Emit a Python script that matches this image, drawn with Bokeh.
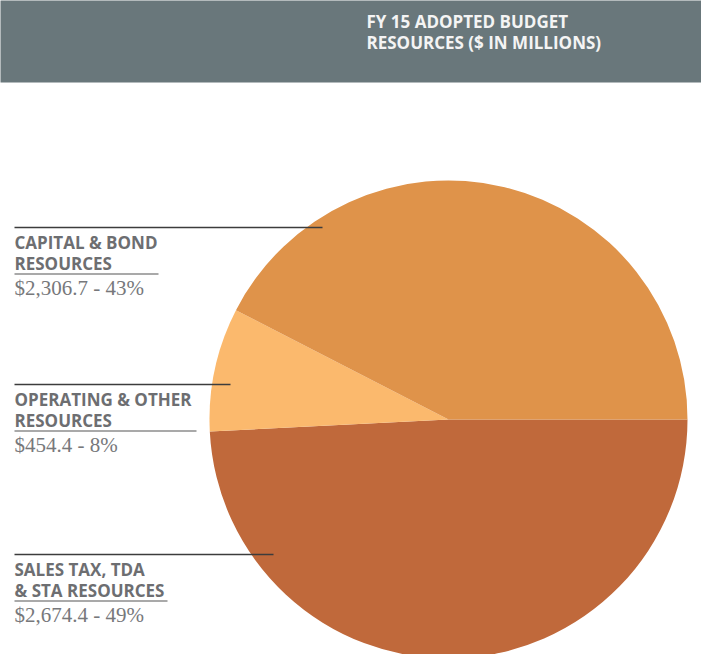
import numpy as np
from bokeh.plotting import figure
from bokeh.models import Range1d, ColumnDataSource
from bokeh.core.properties import value
from bokeh.embed import file_html
from bokeh.resources import INLINE

# ---- data ----
title_lines = ["FY 15 ADOPTED BUDGET", "RESOURCES ($ IN MILLIONS)"]
categories = ["Sales Tax, TDA & STA Resources", "Operating & Other Resources", "Capital & Bond Resources"]
label_line1 = ["SALES TAX, TDA", "OPERATING & OTHER", "CAPITAL & BOND"]
label_line2 = ["& STA RESOURCES", "RESOURCES", "RESOURCES"]
amounts = [2674.4, 454.4, 2306.7]
percents = [49, 8, 43]
colors = ["#C0693B", "#FBB96D", "#DF934A"]

# ---- layout (pixels) ----
W, H = 701, 654
cx, cy, R = 448, 235, 239
leader_y = [100, 270, 427]
leader_x_end = [273, 230, 322]
underline_x_end = [167, 196, 158]
text_x = 14

amt = np.array(amounts)
frac = amt / amt.sum()
cum = np.cumsum(frac)
prev = np.concatenate([[0.0], cum[:-1]])
start = -2 * np.pi * cum
end = -2 * np.pi * prev

p = figure(width=W, height=H, x_range=Range1d(0, W), y_range=Range1d(0, H),
           x_axis_type=None, y_axis_type=None, toolbar_location=None,
           output_backend="svg", min_border=0)
p.outline_line_color = None
p.xgrid.visible = False
p.ygrid.visible = False
p.background_fill_color = "white"
p.border_fill_color = "white"

# header band
p.quad(left=-10, right=W + 10, top=H + 20, bottom=H - 82, fill_color="#69777B", line_color=None)
p.text(x=[366, 366], y=[H - 21, H - 42], text=title_lines, text_color="#F4F4F4",
       text_font=value("Open Sans"), text_font_style="bold", text_font_size="17px",
       text_baseline="alphabetic", text_align="left")

# pie
src = ColumnDataSource(dict(start=start, end=end, color=colors, cat=categories))
p.wedge(x=cx, y=cy, radius=R, start_angle="start", end_angle="end", direction="anticlock",
        fill_color="color", line_color=None, source=src)

ly = np.array(leader_y)
# leader lines
p.segment(x0=[text_x] * 3, y0=ly, x1=leader_x_end, y1=ly, line_color="#3C3C3C", line_width=1.5)
# underlines
p.segment(x0=[text_x] * 3, y0=ly - 46.5, x1=underline_x_end, y1=ly - 46.5, line_color="#8C8C8C", line_width=1.5)

p.text(x=[text_x] * 3, y=ly - 15, text=label_line1, text_color="#6D6E71",
       text_font=value("Open Sans"), text_font_style="bold", text_font_size="17px",
       text_baseline="alphabetic")
p.text(x=[text_x] * 3, y=ly - 36, text=label_line2, text_color="#6D6E71",
       text_font=value("Open Sans"), text_font_style="bold", text_font_size="17px",
       text_baseline="alphabetic")
value_text = [f"${a:,.1f} - {pc}%" for a, pc in zip(amounts, percents)]
p.text(x=[text_x] * 3, y=ly - 60, text=value_text, text_color="#77787B",
       text_font=value("Liberation Serif"), text_font_size="21px",
       text_baseline="alphabetic")

open("out.html", "w").write(file_html(p, INLINE))
